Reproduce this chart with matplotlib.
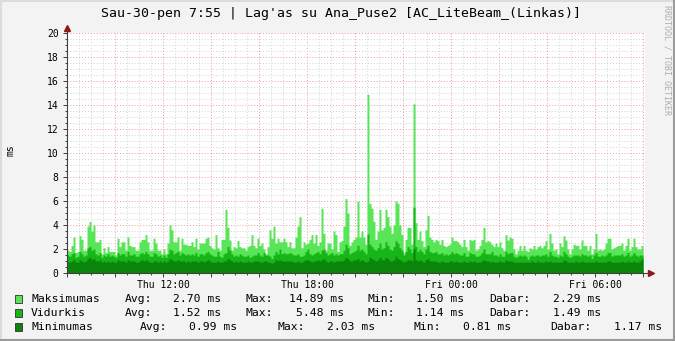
import numpy as np
import matplotlib
import matplotlib.pyplot as plt
from matplotlib.lines import Line2D
from matplotlib.patches import Rectangle
from matplotlib.ticker import MultipleLocator, FuncFormatter

plt.switch_backend("agg")
plt.rcParams["font.family"] = ["DejaVu Sans Mono"]

TITLE = "Sau-30-pen 7:55 | Lag'as su Ana_Puse2 [AC_LiteBeam_(Linkas)]"
Y_LABEL = "ms"
WATERMARK = "RRDTOOL / TOBI OETIKER"

# 5 minute samples, starting Thu 08:00
STEP_MIN = 5
TICK_HOURS = [4, 10, 16, 22]
TICK_LABELS = ["Thu 12:00", "Thu 18:00", "Fri 00:00", "Fri 06:00"]

MAX_MS = [
    1.9, 1.8, 2.3, 3.0, 1.7, 1.8, 3.1, 2.8, 1.9, 1.9,
    3.9, 4.3, 3.5, 4.0, 2.6, 2.6, 2.8, 1.6, 2.1, 1.7,
    2.2, 1.8, 1.8, 1.8, 1.5, 2.9, 2.2, 2.6, 2.6, 1.9,
    3.0, 2.3, 2.2, 2.2, 1.9, 1.9, 2.6, 2.8, 2.8, 3.2,
    2.6, 1.9, 1.9, 2.9, 2.5, 1.9, 1.9, 1.6, 2.0, 1.6,
    2.5, 4.0, 3.6, 2.6, 2.6, 3.0, 1.9, 2.9, 2.4, 2.4,
    2.3, 2.3, 2.6, 2.2, 2.9, 2.0, 2.5, 2.5, 2.5, 2.9, 3.0,
    2.3, 2.1, 2.0, 3.2, 2.1, 1.9, 2.8, 2.8, 5.3, 3.8,
    2.75, 1.9, 2.2, 2.1, 2.7, 2.2, 2.1, 2.1, 1.9, 2.2,
    2.3, 3.2, 2.3, 2.1, 2.9, 2.3, 2.5, 2.0, 1.6, 2.2,
    3.6, 2.9, 3.9, 2.5, 2.9, 2.6, 2.6, 2.9, 2.6, 2.2,
    2.6, 2.1, 2.1, 3.0, 3.9, 4.7, 2.1, 2.6, 2.4, 2.5,
    2.8, 3.2, 2.5, 3.2, 2.3, 2.6, 5.4, 3.3, 1.9, 2.5,
    2.5, 2.0, 3.5, 3.2, 1.8, 2.6, 2.7, 3.9,
    6.2, 5.0, 2.3, 2.6, 2.8, 3.0, 6.0, 3.0, 3.5, 3.0,
    2.4, 14.89, 5.8, 5.4, 4.3, 2.8, 3.5, 5.3, 3.6, 3.8,
    5.3, 4.7, 3.9, 3.3, 4.0, 6.0, 5.8, 4.0, 3.2, 1.7,
    2.8, 3.8, 3.8, 2.4, 14.1, 4.2, 2.8, 3.5, 2.7, 2.2,
    3.6, 4.8, 3.0, 2.8, 2.6, 2.8, 2.7, 2.4, 2.8, 2.3,
    2.2, 2.3, 2.4, 3.0, 2.7, 2.7, 2.6, 2.4, 2.2, 2.8,
    2.2, 1.9, 2.8, 2.7, 2.8, 1.9, 2.0, 2.3, 2.8, 3.8,
    2.6, 2.7,
    2.6, 2.4, 2.2, 2.5,
    2.2, 2.6, 2.1, 1.9, 3.2, 2.75, 3.0, 2.9, 2.0, 1.6,
    1.9, 2.3, 1.9, 2.3, 1.9, 1.8, 2.1, 2.0, 2.3, 2.0,
    2.2, 2.3, 2.1, 2.3, 2.7, 2.0, 3.3, 2.5, 1.9, 2.0,
    1.6, 2.5, 2.2, 3.1, 2.75, 2.0, 1.6, 2.0, 2.4, 2.3,
    2.3, 2.0, 2.75, 2.3, 2.3, 1.9, 2.3, 1.6, 2.0, 3.3,
    1.9, 2.0, 1.9, 2.0, 2.5, 2.9, 2.9, 2.0, 2.1, 2.2,
    2.3, 2.3, 2.5, 1.9, 2.3, 2.9, 1.9, 2.2, 2.9, 2.2,
    2.0, 2.0, 2.29,
]

AVG_MS = [
    1.5, 1.4, 1.6, 1.7, 1.3, 1.4, 1.8, 1.6, 1.4, 1.5, 2.1, 2.2,
    1.9, 2.0, 1.6, 1.5, 1.7, 1.3, 1.5, 1.4, 1.6, 1.4, 1.5, 1.4,
    1.3, 1.7, 1.5, 1.6, 1.6, 1.4, 1.8, 1.5, 1.5, 1.6, 1.4, 1.4,
    1.6, 1.7, 1.6, 1.8, 1.6, 1.4, 1.4, 1.7, 1.6, 1.4, 1.5, 1.3,
    1.5, 1.3, 1.6, 2.0, 1.9, 1.6, 1.7, 1.8, 1.5, 1.7, 1.6, 1.5,
    1.6, 1.5, 1.6, 1.5, 1.7, 1.4, 1.6, 1.6, 1.5, 1.7, 1.8, 1.6,
    1.5, 1.4, 1.4, 1.8, 1.4, 1.3, 1.6, 1.7, 2.2, 1.9, 1.6, 1.4,
    1.5, 1.4, 1.6, 1.5, 1.4, 1.4, 1.5, 1.3, 1.4, 1.5, 1.5, 1.7,
    1.5, 1.4, 1.7, 1.5, 1.5, 1.4, 1.2, 1.5, 1.8, 1.6, 2.0, 1.6,
    1.7, 1.6, 1.6, 1.7, 1.6, 1.5, 1.5, 1.6, 1.4, 1.4, 1.5, 1.8,
    2.0, 1.6, 1.5, 1.6, 1.7, 1.8, 1.6, 1.9, 2.0, 1.7, 1.5, 1.6,
    1.7, 1.5, 1.6, 1.5, 1.6, 1.6, 1.9, 2.4, 2.1, 1.6, 1.7, 1.8,
    1.9, 2.3, 1.9, 2.0, 1.8, 1.6, 3.25, 2.4, 2.2, 2.0, 1.9, 2.1,
    2.5, 2.0, 2.1, 2.6, 2.3, 2.0, 1.9, 2.2, 2.7, 2.5, 2.1, 1.9,
    1.5, 1.8, 2.2, 2.0, 1.7, 5.48, 2.2, 1.8, 2.0, 1.8, 1.6, 2.0,
    2.3, 1.8, 1.7, 1.7, 1.8, 1.6, 1.6, 1.7, 1.5, 1.6, 1.5, 1.6,
    1.8, 1.6, 1.7, 1.6, 1.5, 1.5, 1.7, 1.4, 1.4, 1.7, 1.6, 1.6,
    1.4, 1.4, 1.5, 1.7, 2.0, 1.6, 1.6, 1.6, 1.8, 1.5, 1.5, 1.4,
    1.6, 1.4, 1.4, 1.8, 1.6, 1.7, 1.7, 1.4, 1.3, 1.4, 1.5, 1.4,
    1.5, 1.4, 1.14, 1.4, 1.5, 1.4, 1.5, 1.5, 1.4, 1.5, 1.5, 1.6,
    1.4, 1.8, 1.5, 1.4, 1.4, 1.3, 1.5, 1.4, 1.8, 1.6, 1.4, 1.3,
    1.4, 1.5, 1.5, 1.5, 1.4, 1.6, 1.5, 1.5, 1.4, 1.5, 1.2, 1.5,
    1.7, 1.4, 1.4, 1.5, 1.4, 1.5, 1.7, 1.7, 1.4, 1.5, 1.5, 1.5,
    1.5, 1.6, 1.4, 1.5, 1.7, 1.4, 1.5, 1.7, 1.5, 1.4, 1.5, 1.49,
]

MIN_MS = [
    1.0, 0.9, 1.0, 1.1, 0.9, 0.9, 1.1, 1.0, 0.9, 1.0, 1.2, 1.3,
    1.1, 1.2, 1.0, 1.0, 1.1, 0.9, 1.0, 0.9, 1.0, 0.9, 1.0, 0.9,
    0.9, 1.1, 1.0, 1.0, 1.0, 0.9, 1.1, 1.0, 1.0, 1.0, 0.9, 0.9,
    1.0, 1.1, 1.0, 1.1, 1.0, 0.9, 0.9, 1.0, 1.0, 0.9, 1.0, 0.9,
    1.0, 0.9, 1.0, 1.2, 1.1, 1.0, 1.0, 1.1, 1.0, 1.0, 1.0, 0.9,
    1.0, 0.9, 1.0, 1.0, 1.0, 0.9, 1.0, 1.0, 0.9, 1.0, 1.1, 1.0,
    0.9, 0.9, 0.9, 1.0, 0.9, 0.9, 1.0, 1.0, 1.2, 1.1, 1.0, 0.9,
    1.0, 0.9, 1.0, 0.9, 0.9, 0.9, 1.0, 0.9, 0.9, 1.0, 1.0, 1.0,
    0.9, 0.9, 1.0, 1.0, 0.9, 0.9, 0.81, 0.9, 1.1, 1.0, 1.1, 1.0,
    1.0, 1.0, 1.0, 1.0, 1.0, 0.9, 0.9, 1.0, 0.9, 0.9, 1.0, 1.1,
    1.1, 1.0, 0.9, 1.0, 1.0, 1.1, 1.0, 1.1, 1.2, 1.0, 0.9, 1.0,
    1.0, 0.9, 1.0, 1.0, 1.0, 1.0, 1.1, 1.3, 1.2, 1.0, 1.0, 1.1,
    1.1, 1.2, 1.0, 1.1, 1.0, 0.9, 1.0, 1.3, 1.2, 1.1, 1.0, 1.1,
    1.3, 1.1, 1.1, 1.3, 1.2, 1.0, 1.0, 1.1, 1.4, 1.2, 1.1, 1.0,
    0.9, 1.0, 1.1, 1.1, 1.0, 2.03, 1.1, 1.0, 1.1, 1.0, 0.9, 1.1,
    1.2, 1.0, 1.0, 1.0, 1.0, 0.9, 0.9, 1.0, 0.9, 0.9, 0.9, 1.0,
    1.0, 0.9, 1.0, 0.9, 0.9, 0.9, 1.0, 0.9, 0.9, 1.0, 0.9, 1.0,
    0.9, 0.9, 0.9, 1.0, 1.1, 1.0, 1.0, 0.9, 1.0, 0.9, 0.9, 0.9,
    1.0, 0.9, 0.9, 1.1, 1.0, 1.0, 1.0, 0.9, 0.9, 0.9, 0.9, 0.9,
    0.9, 0.9, 0.9, 0.9, 1.0, 0.9, 0.9, 1.0, 0.9, 0.9, 0.9, 1.0,
    0.9, 1.0, 0.9, 0.9, 0.9, 0.9, 0.9, 0.9, 1.1, 1.0, 0.9, 0.9,
    0.9, 0.9, 1.0, 0.9, 0.9, 1.0, 0.9, 0.9, 0.9, 0.9, 0.9, 0.9,
    1.0, 0.9, 0.9, 0.9, 0.9, 0.9, 1.0, 1.0, 0.9, 0.9, 0.9, 0.9,
    0.9, 1.0, 0.9, 0.9, 1.0, 0.9, 0.9, 1.0, 0.9, 0.9, 1.0, 1.17,
]

SERIES_NAMES = ["Maksimumas", "Vidurkis", "Minimumas"]
STAT_AVG = [2.70, 1.52, 0.99]
STAT_MAX = [14.89, 5.48, 2.03]
STAT_MIN = [1.50, 1.14, 0.81]
STAT_NOW = [2.29, 1.49, 1.17]

COLORS = ["#58E658", "#17B517", "#0B840B"]

W, H = 675, 341


def fx(px):
    return px / W


def fy(py):
    return 1 - py / H


fig = plt.figure(figsize=(W / 100, H / 100), dpi=100, facecolor="#F3F3F3")

# plot canvas: x 67..645 px, y 33..273 px
ax = fig.add_axes([fx(67), fy(273), 578 / W, 240 / H])
ax.set_facecolor("white")

edges = np.arange(len(MAX_MS) + 1) * STEP_MIN / 60.0
for vals, color in zip([MAX_MS, AVG_MS, MIN_MS], COLORS):
    v = np.append(vals, vals[-1])
    ax.fill_between(edges, 0, v, step="post", color=color, linewidth=0, zorder=2)

ax.set_xlim(0, 578 / 24)
ax.set_ylim(0, 20)
for s in ax.spines.values():
    s.set_visible(False)

ax.yaxis.set_major_locator(MultipleLocator(2))
ax.yaxis.set_minor_locator(MultipleLocator(0.5))
ax.xaxis.set_major_locator(MultipleLocator(2))
ax.xaxis.set_minor_locator(MultipleLocator(0.5))
labels = dict(zip(TICK_HOURS, TICK_LABELS))
ax.xaxis.set_major_formatter(FuncFormatter(lambda v, p: labels.get(int(round(v)), "")))
ax.yaxis.set_major_formatter(FuncFormatter(lambda v, p: f"{v:.0f}"))

ax.set_axisbelow(True)
ax.grid(which="minor", color="#D2D2D2", linestyle=(0, (1, 2)), linewidth=0.7)
ax.grid(which="major", color="#E99A9A", linestyle=(0, (1, 2)), linewidth=0.7)

ax.tick_params(which="major", length=3, width=0.7, color="#404040", direction="out",
               labelsize=7, pad=3)
ax.tick_params(which="minor", length=1.5, width=0.7, color="#404040", direction="out")
ax.tick_params(axis="x", which="major", pad=2)

# axis lines with arrows
ax.plot([0, 0], [0, 20.45], color="#404040", linewidth=0.8, clip_on=False, zorder=5)
ax.plot([0, 578 / 24 + 0.25], [0, 0], color="#404040", linewidth=0.8, clip_on=False, zorder=5)
ax.plot([0], [20.45], marker="^", markersize=4.5, color="#8B1A1A", clip_on=False, zorder=6)
ax.plot([578 / 24 + 0.25], [0], marker=">", markersize=4.5, color="#8B1A1A", clip_on=False, zorder=6)

fig.text(fx(341), fy(14), TITLE, ha="center", va="center", fontsize=9.5, color="#000000")
fig.text(fx(10), fy(150), Y_LABEL, rotation=90, ha="center", va="center", fontsize=7)
fig.text(fx(667), fy(5), WATERMARK, rotation=270, ha="center", va="top", fontsize=6,
         color="#ADADAD")

# legend rows: label x positions, value right edges
row_y = [299, 313, 327]
label_x = [
    [125, 246, 368, 489],
    [125, 246, 368, 489],
    [140, 277, 413, 550],
]
value_end = [
    [221, 344, 464, 601],
    [221, 344, 464, 601],
    [237, 375, 511, 662],
]
for i, name in enumerate(SERIES_NAMES):
    y = row_y[i]
    fig.add_artist(Rectangle((fx(15), fy(y + 4)), 7 / W, 8 / H, transform=fig.transFigure,
                             facecolor=COLORS[i], edgecolor="#303030", linewidth=0.6))
    fig.text(fx(31), fy(y), name, va="center", ha="left", fontsize=8.2)
    names = ["Avg:", "Max:", "Min:", "Dabar:"]
    vals = [STAT_AVG[i], STAT_MAX[i], STAT_MIN[i], STAT_NOW[i]]
    for lx, ex, nm, val in zip(label_x[i], value_end[i], names, vals):
        fig.text(fx(lx), fy(y), nm, va="center", ha="left", fontsize=8.2)
        fig.text(fx(ex), fy(y), f"{val:.2f} ms", va="center", ha="right", fontsize=8.2)

# 3d border
fig.add_artist(Line2D([0, 1], [fy(0.5), fy(0.5)], transform=fig.transFigure, color="#DCDCDC", linewidth=1.5))
fig.add_artist(Line2D([fx(0.5), fx(0.5)], [0, 1], transform=fig.transFigure, color="#DCDCDC", linewidth=1.5))
fig.add_artist(Line2D([0, 1], [fy(H - 1), fy(H - 1)], transform=fig.transFigure, color="#9A9A9A", linewidth=1.5))
fig.add_artist(Line2D([fx(W - 1), fx(W - 1)], [0, 1], transform=fig.transFigure, color="#9A9A9A", linewidth=1.5))

fig.savefig("out.png", dpi=100, facecolor=fig.get_facecolor())
